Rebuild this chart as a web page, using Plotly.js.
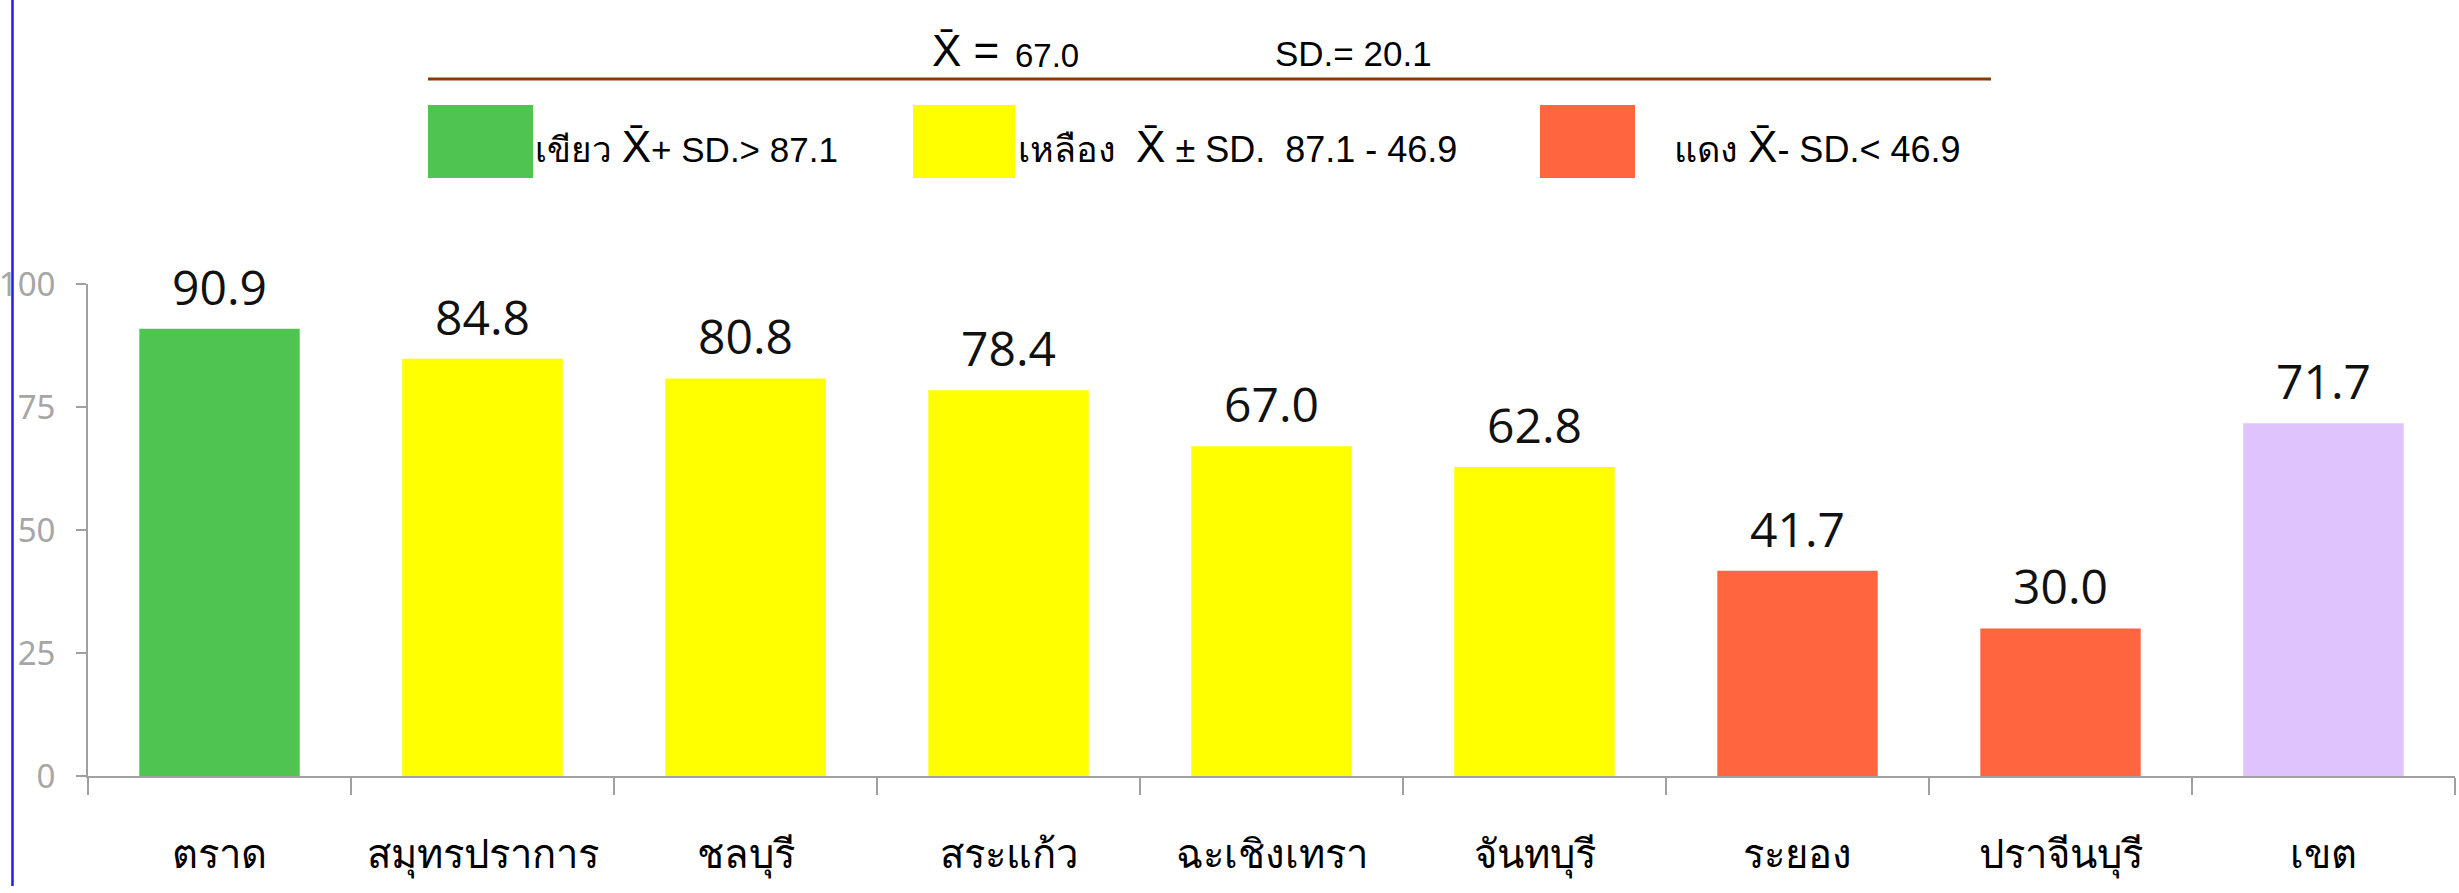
<!DOCTYPE html>
<html>
<head>
<meta charset="utf-8">
<script src="https://cdn.plot.ly/plotly-3.0.1.min.js"></script>
<style>html,body{margin:0;padding:0;background:#fff;}#chart{width:2459px;height:893px;}</style>
</head>
<body>
<div id="chart"></div>
<script>
// Data
const categories = ["ตราด", "สมุทรปราการ", "ชลบุรี", "สระแก้ว", "ฉะเชิงเทรา", "จันทบุรี", "ระยอง", "ปราจีนบุรี", "เขต"];
const values = [90.9, 84.8, 80.8, 78.4, 67.0, 62.8, 41.7, 30.0, 71.7];
const barColors = ["#50C450", "#FFFF00", "#FFFF00", "#FFFF00", "#FFFF00", "#FFFF00", "#FF6640", "#FF6640", "#DFC3FC"];
const yTickVals = [0, 25, 50, 75, 100];
const meanText = "67.0";
const sdText = "20.1";
const legendGreen = "เขียว <span style='font-size:44px'>X̄</span>+ SD.> 87.1";
const legendYellow = "เหลือง  <span style='font-size:44px'>X̄</span> ± SD.  87.1 - 46.9";
const legendRed = "แดง <span style='font-size:44px'>X̄</span>- SD.< 46.9";

// plot area in pixels: x 88..2455, y 284..776
const L = 88, R = 2455, T = 284, B = 776;
const px = x => (x - L) / (R - L);
const py = y => (B - y) / (B - T);

const headFont = "Liberation Sans, Arial, sans-serif";

const trace = {
  type: "bar",
  x: categories,
  y: values,
  marker: { color: barColors, line: { width: 0 } },
  hoverinfo: "x+y"
};

const valueLabels = categories.map((c, i) => ({
  x: c, y: values[i], xref: "x", yref: "y",
  text: values[i].toFixed(1), showarrow: false,
  xanchor: "center", yanchor: "bottom", yshift: 8,
  font: { family: "Open Sans, sans-serif", size: 48, color: "#111111" }
}));

const layout = {
  width: 2459,
  height: 893,
  margin: { l: L, r: 2459 - R, t: T, b: 893 - B, pad: 0 },
  paper_bgcolor: "#ffffff",
  plot_bgcolor: "#ffffff",
  showlegend: false,
  bargap: 0.39,
  xaxis: {
    type: "category",
    showline: true,
    linecolor: "#a0a0a0",
    linewidth: 2,
    ticks: "outside",
    tickson: "boundaries",
    ticklen: 17,
    tickwidth: 2,
    tickcolor: "#a0a0a0",
    showgrid: false,
    zeroline: false,
    tickfont: { family: "Noto Sans, sans-serif", size: 40, color: "#000000" },
    ticklabelstandoff: 42
  },
  yaxis: {
    range: [0, 100],
    tickvals: yTickVals,
    showline: true,
    linecolor: "#a0a0a0",
    linewidth: 2,
    ticks: "outside",
    ticklen: 10,
    tickwidth: 2,
    tickcolor: "#a0a0a0",
    showgrid: false,
    zeroline: false,
    tickfont: { family: "Noto Sans, sans-serif", size: 33, color: "#a6a6a6" },
    ticklabelstandoff: 14
  },
  shapes: [
    { type: "line", xref: "paper", yref: "paper", x0: px(12.5), x1: px(12.5), y0: py(886), y1: py(0),
      line: { color: "#1E1EE6", width: 2.5 } },
    { type: "line", xref: "paper", yref: "paper", x0: px(428), x1: px(1991), y0: py(79), y1: py(79),
      line: { color: "#843C0C", width: 3 } },
    { type: "rect", xref: "paper", yref: "paper", x0: px(428), x1: px(533), y0: py(178), y1: py(105),
      fillcolor: "#50C450", line: { width: 0 } },
    { type: "rect", xref: "paper", yref: "paper", x0: px(913), x1: px(1015), y0: py(178), y1: py(105),
      fillcolor: "#FFFF00", line: { width: 0 } },
    { type: "rect", xref: "paper", yref: "paper", x0: px(1540), x1: px(1635), y0: py(178), y1: py(105),
      fillcolor: "#FF6640", line: { width: 0 } }
  ],
  annotations: valueLabels.concat([
    { xref: "paper", yref: "paper", x: px(930), y: py(50), xanchor: "left", yanchor: "middle",
      text: "X̄ =", showarrow: false, font: { family: headFont, size: 44, color: "#000" } },
    { xref: "paper", yref: "paper", x: px(1013), y: py(55), xanchor: "left", yanchor: "middle",
      text: meanText, showarrow: false, font: { family: headFont, size: 33, color: "#000" } },
    { xref: "paper", yref: "paper", x: px(1273), y: py(53), xanchor: "left", yanchor: "middle",
      text: "SD.= " + sdText, showarrow: false, font: { family: headFont, size: 35, color: "#000" } },
    { xref: "paper", yref: "paper", x: px(533), y: py(146), xanchor: "left", yanchor: "middle",
      text: legendGreen, showarrow: false, font: { family: headFont, size: 35, color: "#000" } },
    { xref: "paper", yref: "paper", x: px(1016), y: py(146), xanchor: "left", yanchor: "middle",
      text: legendYellow, showarrow: false, font: { family: headFont, size: 36, color: "#000" } },
    { xref: "paper", yref: "paper", x: px(1672), y: py(146), xanchor: "left", yanchor: "middle",
      text: legendRed, showarrow: false, font: { family: headFont, size: 36, color: "#000" } }
  ])
};

Plotly.newPlot("chart", [trace], layout, { displayModeBar: false, staticPlot: true });
</script>
</body>
</html>
